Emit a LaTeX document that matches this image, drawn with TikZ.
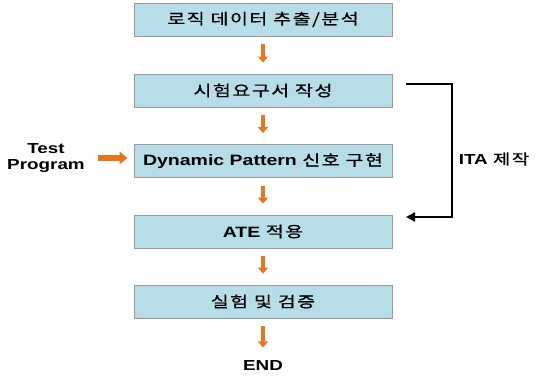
\documentclass[tikz,border=0pt]{standalone}
\usepackage{fontspec}
\setmainfont{Liberation Sans}[FakeStretch=1.3]
\newfontfamily\kr{Noto Sans CJK KR}[FakeStretch=1.3,LetterSpace=10,FakeBold=0.6]
\usetikzlibrary{arrows.meta}
\definecolor{boxfill}{HTML}{B7DDE8}
\definecolor{flow}{HTML}{E8761E}

\begin{document}
\begin{tikzpicture}[x=1pt,y=-1pt,
  stepbox/.style={rectangle, draw=gray!80, line width=0.8pt, fill=boxfill,
    minimum width=258pt, minimum height=33pt, inner sep=0pt, font=\fontsize{15}{17}\selectfont},
  flowarrow/.style={draw=flow, line width=4.5pt, shorten <=8pt, shorten >=11pt,
    -{Triangle[width=10pt,length=6pt]}},
  feedback/.style={draw=black, line width=2.6pt, -{Triangle[width=9pt,length=9pt]}},
  latin/.style={font=\fontsize{14.5}{16}\selectfont\bfseries}]
  \useasboundingbox (0,0) rectangle (543,379);
  % main flow
  \node (extract) [stepbox] at (263,19.5) {\kr 로직 데이터 추출/분석};
  \node (spec)    [stepbox] at (263,90.5) {\kr 시험요구서 작성};
  \node (pattern) [stepbox] at (263,161)  {{\bfseries Dynamic Pattern} {\kr 신호 구현}};
  \node (ate)     [stepbox] at (263,231.5) {{\bfseries ATE} {\kr 적용}};
  \node (verify)  [stepbox] at (263,301.5) {\kr 실험 및 검증};
  \node (finish)  [latin] at (263,366) {END};
  \draw[flowarrow] (extract) -- (spec);
  \draw[flowarrow] (spec) -- (pattern);
  \draw[flowarrow] (pattern) -- (ate);
  \draw[flowarrow] (ate) -- (verify);
  \draw[flowarrow, shorten >=10pt] (verify) -- (finish);
  % test program input
  \node (testprog) [latin, align=center] at (46,158) {Test\\Program};
  \draw[flowarrow, line width=5.5pt, shorten <=10pt, shorten >=6pt,
    -{Triangle[width=12pt,length=8pt]}] (testprog.east) -- (pattern.west |- testprog.east);
  % ITA loop
  \coordinate (loopstart) at (406,84);
  \coordinate (loopend) at (406,217);
  \draw[feedback] (loopstart) -| (452,217) -- (loopend);
  \node (ita) [latin] at (494,159) {ITA {\mdseries\kr 제작}};
\end{tikzpicture}
\end{document}
